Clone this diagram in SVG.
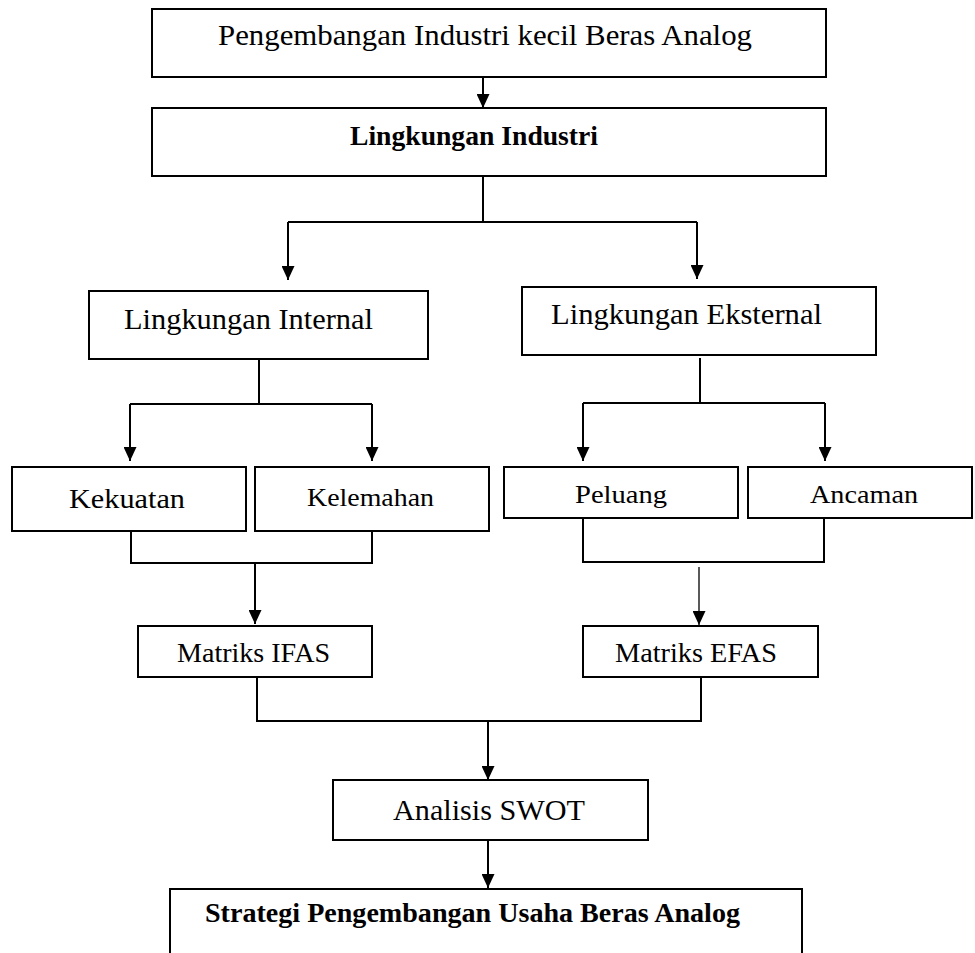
<svg xmlns="http://www.w3.org/2000/svg" width="975" height="953" viewBox="0 0 975 953">
  <style>
    .box { fill: #ffffff; stroke: #000000; stroke-width: 2; }
    .link { fill: none; stroke: #000000; stroke-width: 2; }
    .thin { fill: none; stroke: #000000; stroke-width: 1.3; }
    .t { font-family: "Liberation Serif", "Times New Roman", serif; fill: #000000; }
    .b { font-weight: bold; }
  </style>
  <defs>
    <marker id="arrow" markerUnits="userSpaceOnUse" markerWidth="14" markerHeight="13" refX="14" refY="6.5" orient="auto">
      <path d="M0,0 L14,6.5 L0,13 Z" fill="#000000"/>
    </marker>
  </defs>
  <rect width="975" height="953" fill="#ffffff"/>

  <!-- connectors -->
  <g id="connectors">
    <path class="link" d="M483,77 V108" marker-end="url(#arrow)"/>
    <path class="link" d="M483,176 V222 M288,222 H697"/>
    <path class="link" d="M288,222 V280" marker-end="url(#arrow)"/>
    <path class="link" d="M697,222 V279" marker-end="url(#arrow)"/>

    <path class="link" d="M259,359 V404 M130,404 H372"/>
    <path class="link" d="M130,404 V461" marker-end="url(#arrow)"/>
    <path class="link" d="M372,404 V461" marker-end="url(#arrow)"/>

    <path class="link" d="M700,358 V403 M583,403 H825"/>
    <path class="link" d="M583,403 V461" marker-end="url(#arrow)"/>
    <path class="link" d="M825,403 V461" marker-end="url(#arrow)"/>

    <path class="link" d="M131,531 V563 H372 V531"/>
    <path class="link" d="M255,563 V624" marker-end="url(#arrow)"/>

    <path class="link" d="M583,518 V562 H824 V518"/>
    <path class="thin" d="M699,567 V625" marker-end="url(#arrow)"/>

    <path class="link" d="M257,677 V721 H701 V677"/>
    <path class="link" d="M488,721 V780" marker-end="url(#arrow)"/>

    <path class="link" d="M488,840 V888" marker-end="url(#arrow)"/>
  </g>

  <!-- nodes -->
  <g id="node-pengembangan">
    <rect class="box" x="152" y="9" width="674" height="68"/>
    <text class="t" x="218" y="45" font-size="30" textLength="534" lengthAdjust="spacingAndGlyphs">Pengembangan Industri kecil Beras Analog</text>
  </g>
  <g id="node-lingkungan-industri">
    <rect class="box" x="152" y="108" width="674" height="68"/>
    <text class="t b" x="350" y="145" font-size="27" textLength="248" lengthAdjust="spacingAndGlyphs">Lingkungan Industri</text>
  </g>
  <g id="node-internal">
    <rect class="box" x="89" y="291" width="339" height="68"/>
    <text class="t" x="124" y="329" font-size="29" textLength="249" lengthAdjust="spacingAndGlyphs">Lingkungan Internal</text>
  </g>
  <g id="node-eksternal">
    <rect class="box" x="522" y="287" width="354" height="68"/>
    <text class="t" x="551" y="324" font-size="29" textLength="271" lengthAdjust="spacingAndGlyphs">Lingkungan Eksternal</text>
  </g>
  <g id="node-kekuatan">
    <rect class="box" x="12" y="467" width="234" height="64"/>
    <text class="t" x="69" y="508" font-size="28" textLength="116" lengthAdjust="spacingAndGlyphs">Kekuatan</text>
  </g>
  <g id="node-kelemahan">
    <rect class="box" x="255" y="467" width="234" height="64"/>
    <text class="t" x="307" y="506" font-size="25" textLength="127" lengthAdjust="spacingAndGlyphs">Kelemahan</text>
  </g>
  <g id="node-peluang">
    <rect class="box" x="504" y="467" width="234" height="51"/>
    <text class="t" x="575" y="503" font-size="25" textLength="92" lengthAdjust="spacingAndGlyphs">Peluang</text>
  </g>
  <g id="node-ancaman">
    <rect class="box" x="748" y="467" width="224" height="51"/>
    <text class="t" x="810" y="503" font-size="25" textLength="108" lengthAdjust="spacingAndGlyphs">Ancaman</text>
  </g>
  <g id="node-ifas">
    <rect class="box" x="138" y="626" width="234" height="51"/>
    <text class="t" x="177" y="662" font-size="27" textLength="153" lengthAdjust="spacingAndGlyphs">Matriks IFAS</text>
  </g>
  <g id="node-efas">
    <rect class="box" x="583" y="626" width="235" height="51"/>
    <text class="t" x="615" y="662" font-size="27" textLength="162" lengthAdjust="spacingAndGlyphs">Matriks EFAS</text>
  </g>
  <g id="node-swot">
    <rect class="box" x="333" y="780" width="315" height="60"/>
    <text class="t" x="393" y="820" font-size="30" textLength="192" lengthAdjust="spacingAndGlyphs">Analisis SWOT</text>
  </g>
  <g id="node-strategi">
    <rect class="box" x="170" y="889" width="632" height="80"/>
    <text class="t b" x="205" y="922" font-size="27" textLength="535" lengthAdjust="spacingAndGlyphs">Strategi Pengembangan Usaha Beras Analog</text>
  </g>
</svg>
